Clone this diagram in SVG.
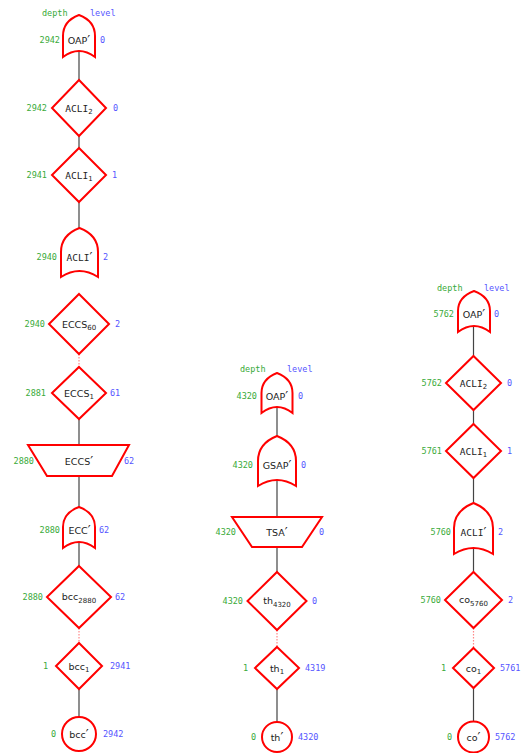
<svg xmlns="http://www.w3.org/2000/svg" width="522" height="753" viewBox="0 0 522 753">
<style>
.sh{fill:#fff;stroke:#f00;stroke-width:2;stroke-linejoin:miter}
.c{stroke:#444;stroke-width:1.2;fill:none}
.d{stroke:#f88;stroke-width:1.2;stroke-dasharray:1.5 1.5;fill:none}
.l{font-family:"DejaVu Sans",sans-serif;font-size:9.5px;fill:#222;text-anchor:middle}
.m{font-family:"DejaVu Sans Mono",monospace}
.s{font-size:7px}
.p{font-size:13px}
.g{font-family:"DejaVu Sans Mono",monospace;font-size:8.5px;fill:#3aaa3a;text-anchor:end}
.b{font-family:"DejaVu Sans Mono",monospace;font-size:8.5px;fill:#5555ff}
.hg{font-family:"DejaVu Sans Mono",monospace;font-size:8.5px;fill:#3aaa3a}
</style>
<g id="connectors">
<line class="c" x1="79" y1="51" x2="79" y2="80"/>
<line class="c" x1="79" y1="136" x2="79" y2="148"/>
<line class="c" x1="79" y1="202" x2="79" y2="228"/>
<line class="d" x1="79" y1="354" x2="79" y2="367"/>
<line class="c" x1="79" y1="419" x2="79" y2="445"/>
<line class="c" x1="79" y1="476" x2="79" y2="507"/>
<line class="c" x1="79" y1="542" x2="79" y2="566"/>
<line class="d" x1="79" y1="628" x2="79" y2="643"/>
<line class="c" x1="79" y1="689" x2="79" y2="717"/>
<line class="c" x1="277" y1="407" x2="277" y2="436"/>
<line class="c" x1="277" y1="480" x2="277" y2="517"/>
<line class="c" x1="277" y1="547" x2="277" y2="572"/>
<line class="d" x1="277" y1="630" x2="277" y2="647"/>
<line class="c" x1="277" y1="689" x2="277" y2="722"/>
<line class="c" x1="473.5" y1="326" x2="473.5" y2="356"/>
<line class="c" x1="473.5" y1="410" x2="473.5" y2="424"/>
<line class="c" x1="473.5" y1="478" x2="473.5" y2="503"/>
<line class="c" x1="473.5" y1="548" x2="473.5" y2="572"/>
<line class="d" x1="473.5" y1="628" x2="473.5" y2="648"/>
<line class="c" x1="473.5" y1="688" x2="473.5" y2="722"/>
</g>
<g id="headers">
<text class="hg" x="42" y="16">depth</text><text class="b" x="90" y="16">level</text>
<text class="hg" x="240" y="372">depth</text><text class="b" x="287" y="372">level</text>
<text class="hg" x="437" y="291">depth</text><text class="b" x="484" y="291">level</text>
</g>
<g id="L_OAP">
<path class="sh" d="M63,57 L63,36 Q63,21 79,15 Q95,21 95,36 L95,57 Q79,45 63,57Z"/>
<text class="l" x="79" y="43.5">OAP<tspan class="p">′</tspan></text>
<text class="g" x="60" y="43">2942</text><text class="b" x="100" y="43">0</text>
</g>
<g id="L_ACLI2">
<polygon class="sh" points="79,80 106,108 79,136 52,108"/>
<text class="l" x="79" y="111.5"><tspan class="m">ACLI</tspan><tspan class="s" dy="2.5">2</tspan></text>
<text class="g" x="47" y="111">2942</text><text class="b" x="113" y="111">0</text>
</g>
<g id="L_ACLI1">
<polygon class="sh" points="79,148 106,175 79,202 52,175"/>
<text class="l" x="79" y="178.5"><tspan class="m">ACLI</tspan><tspan class="s" dy="2.5">1</tspan></text>
<text class="g" x="47" y="178">2941</text><text class="b" x="112" y="178">1</text>
</g>
<g id="L_ACLIp">
<path class="sh" d="M61,277 L61,252 Q61,235 79.5,228 Q98,235 98,252 L98,277 Q79.5,265 61,277Z"/>
<text class="l" x="79.5" y="260.5"><tspan class="m">ACLI</tspan><tspan class="p">′</tspan></text>
<text class="g" x="57" y="260">2940</text><text class="b" x="103" y="260">2</text>
</g>
<g id="L_ECCS60">
<polygon class="sh" points="79,294 109,324 79,354 49,324"/>
<text class="l" x="79" y="327.5">ECCS<tspan class="s" dy="2.5">60</tspan></text>
<text class="g" x="45" y="327">2940</text><text class="b" x="115" y="327">2</text>
</g>
<g id="L_ECCS1">
<polygon class="sh" points="79,367 106,393 79,419 52,393"/>
<text class="l" x="79" y="396.5">ECCS<tspan class="s" dy="2.5">1</tspan></text>
<text class="g" x="46" y="396">2881</text><text class="b" x="110" y="396">61</text>
</g>
<g id="L_ECCSp">
<polygon class="sh" points="28,445 129,445 112,476 47,476"/>
<text class="l" x="79" y="464.5">ECCS<tspan class="p">′</tspan></text>
<text class="g" x="34" y="464">2880</text><text class="b" x="124" y="464">62</text>
</g>
<g id="L_ECCp">
<path class="sh" d="M63,548 L63,527 Q63,513 79,507 Q95,513 95,527 L95,548 Q79,536 63,548Z"/>
<text class="l" x="79.5" y="533.5">ECC<tspan class="p">′</tspan></text>
<text class="g" x="60" y="533">2880</text><text class="b" x="99" y="533">62</text>
</g>
<g id="L_bcc2880">
<polygon class="sh" points="79,566 111,597 79,628 47,597"/>
<text class="l" x="79" y="600">bcc<tspan class="s" dy="2.5">2880</tspan></text>
<text class="g" x="43" y="600">2880</text><text class="b" x="115" y="600">62</text>
</g>
<g id="L_bcc1">
<polygon class="sh" points="79,643 102,666 79,689 56,666"/>
<text class="l" x="79" y="669.5">bcc<tspan class="s" dy="2.5">1</tspan></text>
<text class="g" x="48" y="669">1</text><text class="b" x="110" y="669">2941</text>
</g>
<g id="L_bccp">
<circle class="sh" cx="79" cy="734" r="17"/>
<text class="l" x="79" y="737.5">bcc<tspan class="p">′</tspan></text>
<text class="g" x="56" y="737">0</text><text class="b" x="103" y="737">2942</text>
</g>
<g id="M_OAP">
<path class="sh" d="M261.5,413 L261.5,393 Q261.5,379 277,373 Q292.5,379 292.5,393 L292.5,413 Q277,401 261.5,413Z"/>
<text class="l" x="277" y="399.5">OAP<tspan class="p">′</tspan></text>
<text class="g" x="257" y="399">4320</text><text class="b" x="298" y="399">0</text>
</g>
<g id="M_GSAP">
<path class="sh" d="M258,486 L258,461 Q258,443.5 277,436 Q296,443.5 296,461 L296,486 Q277,474 258,486Z"/>
<text class="l" x="277" y="468.5">GSAP<tspan class="p">′</tspan></text>
<text class="g" x="253" y="468">4320</text><text class="b" x="301" y="468">0</text>
</g>
<g id="M_TSA">
<polygon class="sh" points="232,517 322,517 302,547 252,547"/>
<text class="l" x="277" y="535.5">TSA<tspan class="p">′</tspan></text>
<text class="g" x="236" y="535">4320</text><text class="b" x="319" y="535">0</text>
</g>
<g id="M_th4320">
<polygon class="sh" points="277,572 306.5,601 277,630 247.5,601"/>
<text class="l" x="277" y="604">th<tspan class="s" dy="2.5">4320</tspan></text>
<text class="g" x="243" y="604">4320</text><text class="b" x="312" y="604">0</text>
</g>
<g id="M_th1">
<polygon class="sh" points="277,647 299,668 277,689 255,668"/>
<text class="l" x="277" y="671.5">th<tspan class="s" dy="2.5">1</tspan></text>
<text class="g" x="248" y="671">1</text><text class="b" x="305" y="671">4319</text>
</g>
<g id="M_thp">
<circle class="sh" cx="277" cy="737" r="15"/>
<text class="l" x="277" y="740.5">th<tspan class="p">′</tspan></text>
<text class="g" x="256" y="740">0</text><text class="b" x="298" y="740">4320</text>
</g>
<g id="R_OAP">
<path class="sh" d="M458,332 L458,311 Q458,297 474,291 Q490,297 490,311 L490,332 Q474,320 458,332Z"/>
<text class="l" x="474" y="317.5">OAP<tspan class="p">′</tspan></text>
<text class="g" x="454" y="317">5762</text><text class="b" x="494" y="317">0</text>
</g>
<g id="R_ACLI2">
<polygon class="sh" points="473.5,356 501,383 473.5,410 446,383"/>
<text class="l" x="473.5" y="386.5"><tspan class="m">ACLI</tspan><tspan class="s" dy="2.5">2</tspan></text>
<text class="g" x="442" y="386">5762</text><text class="b" x="507" y="386">0</text>
</g>
<g id="R_ACLI1">
<polygon class="sh" points="473.5,424 501,451 473.5,478 446,451"/>
<text class="l" x="473.5" y="454.5"><tspan class="m">ACLI</tspan><tspan class="s" dy="2.5">1</tspan></text>
<text class="g" x="442" y="454">5761</text><text class="b" x="507" y="454">1</text>
</g>
<g id="R_ACLIp">
<path class="sh" d="M454,554 L454,528 Q454,511 473.5,503 Q493,511 493,528 L493,554 Q473.5,542 454,554Z"/>
<text class="l" x="473.5" y="535.5"><tspan class="m">ACLI</tspan><tspan class="p">′</tspan></text>
<text class="g" x="451" y="535">5760</text><text class="b" x="498" y="535">2</text>
</g>
<g id="R_co5760">
<polygon class="sh" points="473.5,572 502,600 473.5,628 445,600"/>
<text class="l" x="473.5" y="603">co<tspan class="s" dy="2.5">5760</tspan></text>
<text class="g" x="441" y="603">5760</text><text class="b" x="508" y="603">2</text>
</g>
<g id="R_co1">
<polygon class="sh" points="473.5,648 494,668 473.5,688 453,668"/>
<text class="l" x="473.5" y="671.5">co<tspan class="s" dy="2.5">1</tspan></text>
<text class="g" x="446" y="671">1</text><text class="b" x="500" y="671">5761</text>
</g>
<g id="R_cop">
<circle class="sh" cx="473.5" cy="737" r="15.5"/>
<text class="l" x="473.5" y="740.5">co<tspan class="p">′</tspan></text>
<text class="g" x="452" y="740">0</text><text class="b" x="495" y="740">5762</text>
</g>
</svg>
